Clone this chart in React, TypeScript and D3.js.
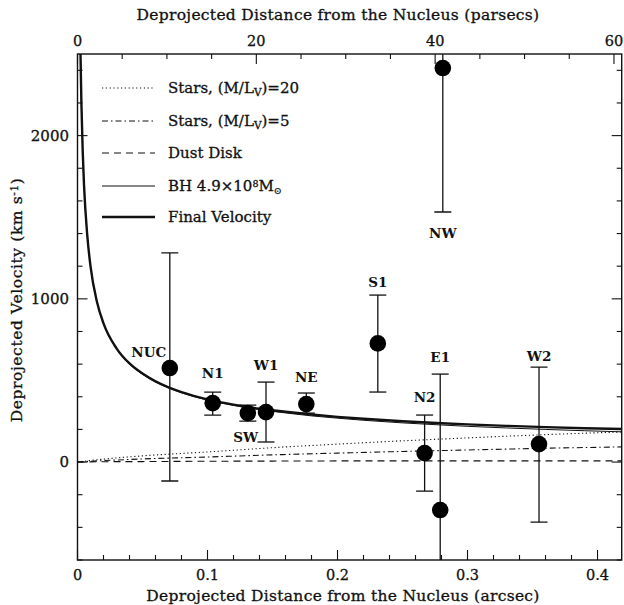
import React from "react";
import * as d3 from "d3";

// Measured knots: deprojected radius (arcsec) and velocity (km/s)
const regionNames = ["NUC", "N1", "SW", "W1", "NE", "S1", "N2", "E1", "W2", "NW"];
const regionRadius = [0.071, 0.104, 0.131, 0.145, 0.176, 0.231, 0.267, 0.279, 0.355, 0.281];
const regionVelocity = [576, 361, 300, 306, 355, 727, 55, -294, 110, 2414];
const regionVelLow = [-116, 288, 251, 123, 300, 429, -178, -1130, -368, 1532];
const regionVelHigh = [1281, 429, 349, 490, 423, 1023, 288, 539, 582, 3300];

// Model curves sampled along radius (arcsec)
const bhRadius = [0.0023, 0.003, 0.004, 0.005, 0.0075, 0.01, 0.015, 0.02, 0.03, 0.04, 0.05, 0.06, 0.07, 0.08, 0.1, 0.12, 0.14, 0.16, 0.18, 0.2, 0.22, 0.25, 0.28, 0.3, 0.33, 0.36, 0.39, 0.42];
const bhVelocity = [2500, 2200, 1905, 1700, 1390, 1200, 980, 850, 695, 600, 538, 491, 455, 425, 380, 347, 321, 301, 283, 269, 256, 240, 227, 219, 209, 200, 192, 185];
const finalVelocity = [2500, 2200, 1905, 1700, 1390, 1200, 980, 850, 697, 604, 542, 494, 458, 429, 384, 352, 327, 308, 291, 277, 265, 250, 238, 231, 222, 214, 207, 202];

const starsRadius = [0, 0.01, 0.02, 0.05, 0.1, 0.15, 0.2, 0.25, 0.3, 0.35, 0.42];
const starsML20 = [0, 10, 18, 38, 62, 88, 110, 130, 148, 165, 185];
const starsML5 = [0, 5, 9, 19, 31, 44, 55, 65, 74, 83, 93];
const dustDisk = [0, 1, 2, 3, 5, 6, 7, 7, 7, 7, 7];

// Axis ticks
const xMajorTicks = [0, 0.1, 0.2, 0.3, 0.4];
const pcMajorTicks = [0, 20, 40, 60];
const yMajorTicks = [0, 1000, 2000];

const W = 624;
const H = 605;
const left = 77.5;
const right = 621.7;
const top = 54;
const bottom = 560;
const PC_PER_ARCSEC = 145.4;
const X_MAX = 0.4186;
const FONT = "'DejaVu Serif', 'Liberation Serif', serif";
const INK = "#111";

type Pt = [number, number];

export default function App() {
  const x = d3.scaleLinear().domain([0, X_MAX]).range([left, right]);
  const xPc = d3.scaleLinear().domain([0, X_MAX * PC_PER_ARCSEC]).range([left, right]);
  const y = d3.scaleLinear().domain([-600, 2500]).range([bottom, top]);

  const line = d3
    .line<Pt>()
    .x((d) => x(d[0]))
    .y((d) => y(d[1]))
    .curve(d3.curveMonotoneX);

  const zip = (a: number[], b: number[]): Pt[] => a.map((v, i) => [v, b[i]]);

  const xMinor = d3.range(0, 0.4001, 0.02);
  const pcMinor = d3.range(0, 60.01, 5);
  const yMinor = d3.range(-600, 2401, 200);

  const isMajor = (v: number, arr: number[]) => arr.some((m) => Math.abs(m - v) < 1e-6);

  // label placement relative to the error-bar ends
  const labelPlace: Record<string, { dx: number; dy: number; from: "high" | "low" | "pt" }> = {
    NUC: { dx: -21, dy: -11, from: "pt" },
    N1: { dx: 0, dy: -14, from: "high" },
    SW: { dx: -2, dy: 21, from: "low" },
    W1: { dx: 0, dy: -12, from: "high" },
    NE: { dx: 0, dy: -11, from: "high" },
    S1: { dx: 0, dy: -8, from: "high" },
    N2: { dx: 0, dy: -13, from: "high" },
    E1: { dx: 0, dy: -12, from: "high" },
    W2: { dx: 0, dy: -6, from: "high" },
    NW: { dx: 0, dy: 26, from: "low" },
  };

  const legend = [
    { dash: "1.2,2.6", width: 1.1, label: "stars20" },
    { dash: "6,3,1.5,3", width: 1.1, label: "stars5" },
    { dash: "7,5", width: 1.1, label: "dust" },
    { dash: "", width: 1.1, label: "bh" },
    { dash: "", width: 2.4, label: "final" },
  ];
  const legendY = [88, 121, 153, 186, 217];

  const legendText = (key: string) => {
    switch (key) {
      case "stars20":
        return (
          <>
            Stars, (M/L<tspan baselineShift="-30%" fontSize="10.5">V</tspan>)=20
          </>
        );
      case "stars5":
        return (
          <>
            Stars, (M/L<tspan baselineShift="-30%" fontSize="10.5">V</tspan>)=5
          </>
        );
      case "dust":
        return <>Dust Disk</>;
      case "bh":
        return (
          <>
            BH 4.9×10<tspan baselineShift="40%" fontSize="9.5">8</tspan>M
            <tspan baselineShift="-30%" fontSize="9.5">⊙</tspan>
          </>
        );
      default:
        return <>Final Velocity</>;
    }
  };

  const textInk = { fill: INK, stroke: INK, strokeWidth: 0.3 };

  return (
    <svg
      width={W}
      height={H}
      viewBox={`0 0 ${W} ${H}`}
      style={{ position: "absolute", left: 0, top: 0, background: "#fff" }}
      fontFamily={FONT}
    >
      <defs>
        <clipPath id="plot-clip">
          <rect x={left} y={top} width={right - left} height={bottom - top} />
        </clipPath>
      </defs>

      {/* model curves */}
      <g clipPath="url(#plot-clip)" fill="none" stroke={INK}>
        <path d={line(zip(starsRadius, dustDisk)) ?? ""} strokeWidth={1.1} strokeDasharray="7,5" />
        <path d={line(zip(starsRadius, starsML5)) ?? ""} strokeWidth={1.1} strokeDasharray="6,3,1.5,3" />
        <path d={line(zip(starsRadius, starsML20)) ?? ""} strokeWidth={1.1} strokeDasharray="1.2,2.6" />
        <path d={line(zip(bhRadius, bhVelocity)) ?? ""} strokeWidth={1} />
        <path d={line(zip(bhRadius, finalVelocity)) ?? ""} strokeWidth={2.4} />
      </g>

      {/* error bars and knots */}
      <g clipPath="url(#plot-clip)" stroke={INK} strokeWidth={1.3}>
        {regionNames.map((n, i) => {
          const cx = x(regionRadius[i]);
          return (
            <g key={n}>
              <line x1={cx} x2={cx} y1={y(regionVelLow[i])} y2={y(regionVelHigh[i])} />
              <line x1={cx - 8.5} x2={cx + 8.5} y1={y(regionVelLow[i])} y2={y(regionVelLow[i])} />
              <line x1={cx - 8.5} x2={cx + 8.5} y1={y(regionVelHigh[i])} y2={y(regionVelHigh[i])} />
              <circle cx={cx} cy={y(regionVelocity[i])} r={8.3} fill="#000" stroke="none" />
            </g>
          );
        })}
      </g>

      {/* knot labels */}
      <g fontSize={13.5} fontWeight="bold" textAnchor="middle" fill={INK}>
        {regionNames.map((n, i) => {
          const p = labelPlace[n];
          const base =
            p.from === "high" ? regionVelHigh[i] : p.from === "low" ? regionVelLow[i] : regionVelocity[i];
          return (
            <text key={n} x={x(regionRadius[i]) + p.dx} y={y(base) + p.dy}>
              {n}
            </text>
          );
        })}
      </g>

      {/* legend */}
      <g fontSize={15} {...textInk}>
        {legend.map((l, i) => (
          <g key={l.label}>
            <line
              x1={102}
              x2={155}
              y1={legendY[i]}
              y2={legendY[i]}
              stroke={INK}
              strokeWidth={l.width}
              strokeDasharray={l.dash || undefined}
            />
            <text x={168} y={legendY[i] + 5}>
              {legendText(l.label)}
            </text>
          </g>
        ))}
      </g>

      {/* frame */}
      <rect
        x={left}
        y={top}
        width={right - left}
        height={bottom - top}
        fill="none"
        stroke={INK}
        strokeWidth={1.4}
      />

      {/* ticks */}
      <g stroke={INK} strokeWidth={1.1}>
        {xMinor.map((v) => {
          const len = isMajor(v, xMajorTicks) ? 10 : 5;
          return <line key={`xb${v}`} x1={x(v)} x2={x(v)} y1={bottom} y2={bottom - len} />;
        })}
        {pcMinor.map((v) => {
          const len = isMajor(v, pcMajorTicks) ? 10 : 5;
          return <line key={`xt${v}`} x1={xPc(v)} x2={xPc(v)} y1={top} y2={top + len} />;
        })}
        {yMinor.map((v) => {
          const len = isMajor(v, yMajorTicks) ? 10 : 5;
          return (
            <g key={`y${v}`}>
              <line x1={left} x2={left + len} y1={y(v)} y2={y(v)} />
              <line x1={right} x2={right - len} y1={y(v)} y2={y(v)} />
            </g>
          );
        })}
      </g>

      {/* tick labels */}
      <g fontSize={14.5} {...textInk} textAnchor="middle">
        {xMajorTicks.map((v) => (
          <text key={`xl${v}`} x={x(v)} y={580}>
            {v === 0 ? "0" : d3.format(".1f")(v)}
          </text>
        ))}
        {pcMajorTicks.map((v) => (
          <text key={`pl${v}`} x={xPc(v)} y={46}>
            {v}
          </text>
        ))}
      </g>
      <g fontSize={15} {...textInk} textAnchor="end">
        {yMajorTicks.map((v) => (
          <text key={`yl${v}`} x={69} y={y(v) + 5}>
            {v}
          </text>
        ))}
      </g>

      {/* axis titles */}
      <g fontSize={15.5} {...textInk} textAnchor="middle" letterSpacing={0.3}>
        <text x={343} y={601}>
          Deprojected Distance from the Nucleus (arcsec)
        </text>
        <text x={338} y={20}>
          Deprojected Distance from the Nucleus (parsecs)
        </text>
        <text transform={`translate(22,${300}) rotate(-90)`} letterSpacing={0.6}>
          Deprojected Velocity (km s<tspan baselineShift="40%" fontSize="10.5">-1</tspan>)
        </text>
      </g>
    </svg>
  );
}
